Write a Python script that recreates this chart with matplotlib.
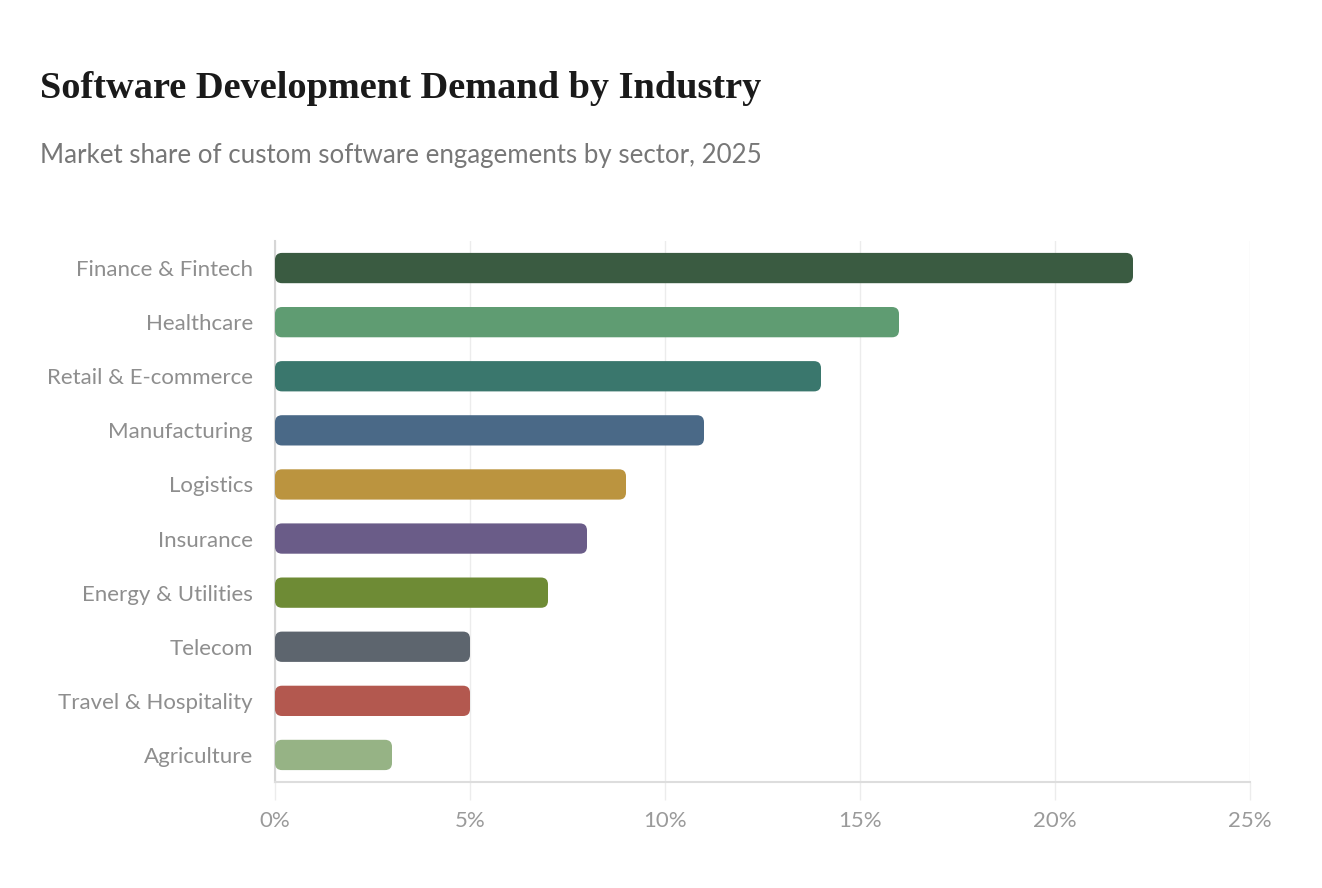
import matplotlib
matplotlib.use("Agg")
import matplotlib.pyplot as plt
from matplotlib.patches import FancyBboxPatch
from matplotlib.ticker import FuncFormatter

# data
sectors = ["Finance & Fintech", "Healthcare", "Retail & E-commerce", "Manufacturing",
           "Logistics", "Insurance", "Energy & Utilities", "Telecom",
           "Travel & Hospitality", "Agriculture"]
share = [22, 16, 14, 11, 9, 8, 7, 5, 5, 3]
colors = ["#3a5b41", "#5f9c72", "#3a776d", "#4a6987", "#bb943f", "#6a5c88",
          "#6e8b35", "#5d656e", "#b3584f", "#96b385"]
xticks = [0, 5, 10, 15, 20, 25]

fig = plt.figure(figsize=(13.22, 8.88), dpi=100)
fig.patch.set_facecolor("white")
ax = fig.add_axes([275 / 1322, 1 - 782 / 888, 975 / 1322, 541 / 888])

ypos = list(range(len(sectors)))
bars = ax.barh(ypos, share, height=0.56, color=colors)
ax.set_xlim(0, 25)
ax.set_ylim(len(sectors) - 0.5, -0.5)

# swap plain bars for rounded ones
fig.canvas.draw()
px_x = ax.transData.transform((1, 0))[0] - ax.transData.transform((0, 0))[0]
px_y = abs(ax.transData.transform((0, 1))[1] - ax.transData.transform((0, 0))[1])
r = 7 / px_x
for b in bars:
    p = FancyBboxPatch((b.get_x(), b.get_y()), b.get_width(), b.get_height(),
                       boxstyle=f"round,pad=0,rounding_size={r}",
                       mutation_aspect=px_x / px_y,
                       facecolor=b.get_facecolor(), edgecolor="none", zorder=3)
    ax.add_patch(p)
    b.set_visible(False)

ax.set_yticks(ypos)
ax.set_yticklabels(sectors, fontsize=16, color="#8e8e8e", family="Lato")
ax.set_xticks(xticks)
ax.xaxis.set_major_formatter(FuncFormatter(lambda v, _: f"{v:.0f}%"))
for lab in ax.get_xticklabels():
    lab.set_fontsize(16)
    lab.set_color("#9a9a9a")
    lab.set_family("Lato")

ax.grid(axis="x", color="#ececec", linewidth=1, zorder=0)
ax.set_axisbelow(True)
ax.tick_params(axis="y", length=0, pad=16)
ax.tick_params(axis="x", length=13, color="#ececec", width=1, pad=8)
for s in ["top", "right"]:
    ax.spines[s].set_visible(False)
ax.spines["left"].set_color("#d6d6d6")
ax.spines["left"].set_linewidth(1.5)
ax.spines["bottom"].set_color("#dddddd")
ax.spines["bottom"].set_linewidth(1.5)

fig.text(40 / 1322, 1 - 88 / 888, "Software Development Demand by Industry",
         fontsize=27.6, fontweight="bold", family="Liberation Serif",
         color="#1a1a1a", va="center", ha="left")
fig.text(40 / 1322, 1 - 156 / 888, "Market share of custom software engagements by sector, 2025",
         fontsize=18.6, family="Lato", color="#777777", va="center", ha="left")

fig.savefig("out.png", dpi=100, facecolor="white")
